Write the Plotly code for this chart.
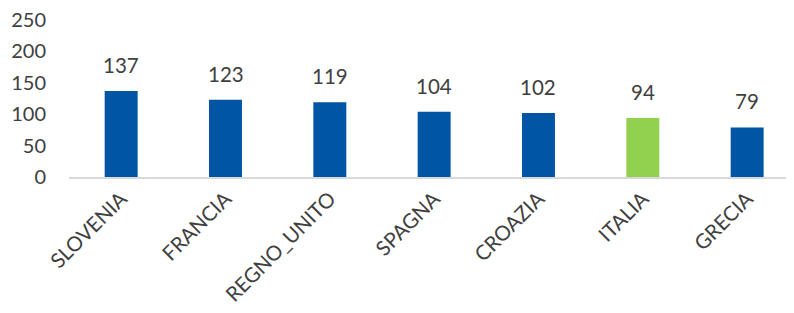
import plotly.graph_objects as go

categories = ["SLOVENIA", "FRANCIA", "REGNO_UNITO", "SPAGNA", "CROAZIA", "ITALIA", "GRECIA"]
values = [137, 123, 119, 104, 102, 94, 79]
colors = ["#0055A4" if c != "ITALIA" else "#92D050" for c in categories]

font_family = "Lato, 'Open Sans', sans-serif"
txt_color = "#404040"

fig = go.Figure(go.Bar(
    x=categories, y=values,
    marker=dict(color=colors, line=dict(width=0)),
    width=0.316,
    cliponaxis=False,
))

for c, v in zip(categories, values):
    fig.add_annotation(x=c, y=v, text=str(v), showarrow=False,
                       yanchor="bottom", yshift=12,
                       font=dict(size=20.5, color=txt_color, family=font_family))

fig.update_layout(
    width=786, height=305,
    margin=dict(l=61, r=0, t=12, b=136),
    paper_bgcolor="white", plot_bgcolor="white",
    showlegend=False,
    font=dict(family=font_family, color=txt_color, size=20.5),
)
fig.update_xaxes(
    range=[-0.5, 6.449], tickangle=-45, showgrid=False, automargin=False,
    showline=True, linecolor="#D9D9D9", linewidth=1.5,
    ticks="", tickfont=dict(size=20.5, color=txt_color), ticklabeloverflow="allow",
)
fig.update_yaxes(
    range=[0, 250], tickvals=[0, 50, 100, 150, 200, 250], automargin=False,
    showgrid=False, zeroline=False, showline=False, ticks="",
    tickfont=dict(size=20, color=txt_color), ticklabelstandoff=22,
    ticklabeloverflow="allow",
)

fig.write_html("out.html")
